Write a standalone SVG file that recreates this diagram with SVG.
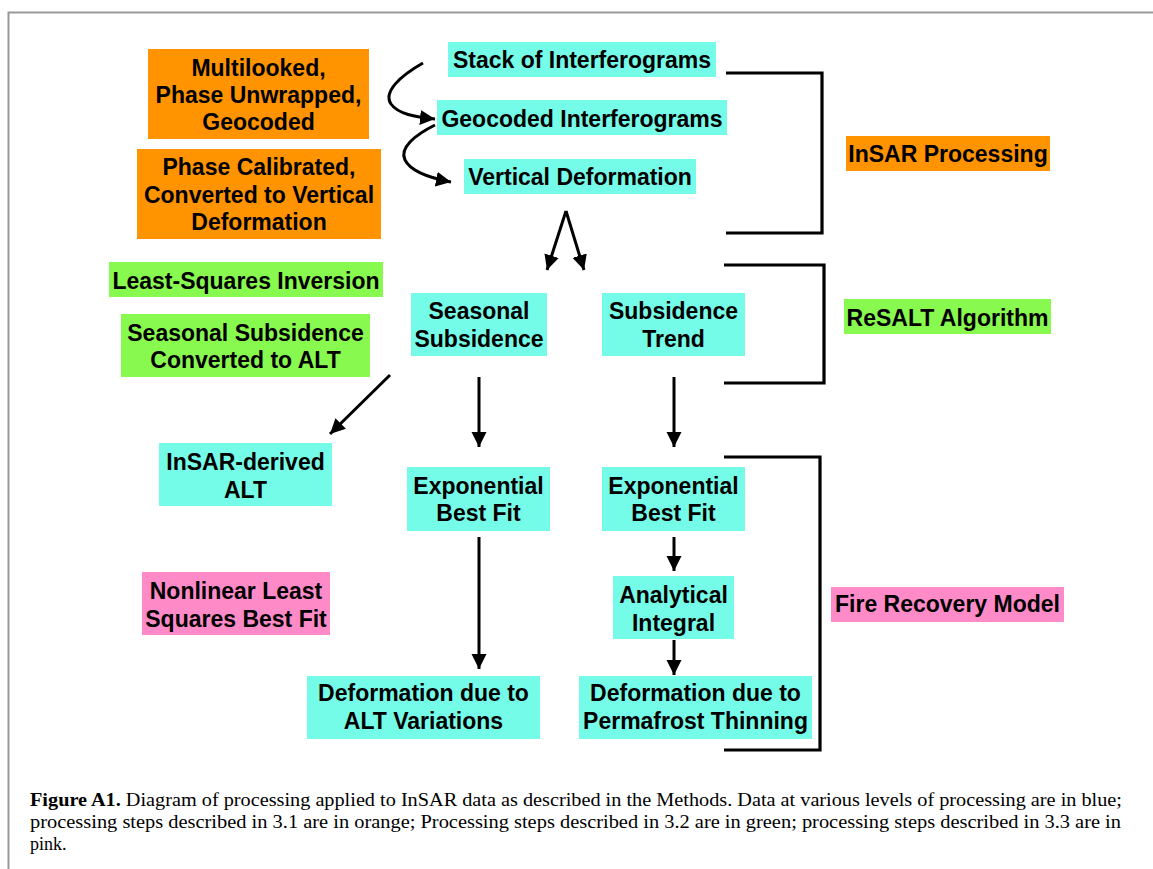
<svg xmlns="http://www.w3.org/2000/svg" width="1153" height="869" viewBox="0 0 1153 869">
<style>
.t{font-family:"Liberation Sans",Arial,Helvetica,sans-serif;font-weight:bold;font-size:23px;fill:#000;text-anchor:middle}
.c{fill:#75FCE8}
.o{fill:#FF9300}
.g{fill:#88F94E}
.p{fill:#FF8AC8}
.ln{fill:none;stroke:#000;stroke-width:3}
.br{fill:none;stroke:#000;stroke-width:3.2}
.cap{font-family:"Liberation Serif","Times New Roman",serif;font-size:18px;fill:#000}
</style>
<defs>
<marker id="ah" markerUnits="userSpaceOnUse" markerWidth="16" markerHeight="16" refX="15" refY="7.5" orient="auto" viewBox="0 0 16 16">
<path d="M0,0 L15,7.5 L0,15 z" fill="#000"/>
</marker>
</defs>
<rect x="0" y="0" width="1153" height="869" fill="#fff"/>
<path d="M8.5,869 L8.5,12.5 L1153,12.5" fill="none" stroke="#999" stroke-width="2"/>

<g id="multilooked"><rect class="o" x="148" y="49" width="221" height="90"/>
<text class="t" x="258.5" y="76">Multilooked,</text>
<text class="t" x="258.5" y="103">Phase Unwrapped,</text>
<text class="t" x="258.5" y="130">Geocoded</text></g>

<g id="phasecal"><rect class="o" x="137" y="149" width="244" height="90"/>
<text class="t" x="259" y="175">Phase Calibrated,</text>
<text class="t" x="259" y="203">Converted to Vertical</text>
<text class="t" x="259" y="230">Deformation</text></g>

<g id="stack"><rect class="c" x="448" y="42" width="268" height="35"/>
<text class="t" x="582" y="68">Stack of Interferograms</text></g>

<g id="geocoded"><rect class="c" x="437" y="100" width="290" height="35"/>
<text class="t" x="582" y="127">Geocoded Interferograms</text></g>

<g id="vertdef"><rect class="c" x="464" y="159" width="232" height="35"/>
<text class="t" x="580" y="185">Vertical Deformation</text></g>

<g id="insarproc"><rect class="o" x="846" y="136" width="204" height="35"/>
<text class="t" x="948" y="162">InSAR Processing</text></g>

<g id="resalt"><rect class="g" x="844" y="299" width="207" height="35"/>
<text class="t" x="947.5" y="326">ReSALT Algorithm</text></g>

<g id="lsinv"><rect class="g" x="109" y="262" width="274" height="35"/>
<text class="t" x="246" y="289">Least-Squares Inversion</text></g>

<g id="sscalt"><rect class="g" x="121" y="314" width="249" height="63"/>
<text class="t" x="245.5" y="341">Seasonal Subsidence</text>
<text class="t" x="245.5" y="368">Converted to ALT</text></g>

<g id="seasonal"><rect class="c" x="411" y="293" width="136" height="63"/>
<text class="t" x="479" y="319">Seasonal</text>
<text class="t" x="479" y="347">Subsidence</text></g>

<g id="trend"><rect class="c" x="602" y="293" width="143" height="63"/>
<text class="t" x="673.5" y="319">Subsidence</text>
<text class="t" x="673.5" y="347">Trend</text></g>

<g id="insaralt"><rect class="c" x="159" y="443" width="173" height="63"/>
<text class="t" x="245.5" y="470">InSAR-derived</text>
<text class="t" x="245.5" y="498">ALT</text></g>

<g id="expleft"><rect class="c" x="407" y="467" width="143" height="64"/>
<text class="t" x="478.5" y="494">Exponential</text>
<text class="t" x="478.5" y="521">Best Fit</text></g>

<g id="expright"><rect class="c" x="602" y="467" width="143" height="64"/>
<text class="t" x="673.5" y="494">Exponential</text>
<text class="t" x="673.5" y="521">Best Fit</text></g>

<g id="nonlinear"><rect class="p" x="142" y="572" width="188" height="63"/>
<text class="t" x="236" y="599">Nonlinear Least</text>
<text class="t" x="236" y="627">Squares Best Fit</text></g>

<g id="analytical"><rect class="c" x="613" y="576" width="121" height="63"/>
<text class="t" x="673.5" y="603">Analytical</text>
<text class="t" x="673.5" y="631">Integral</text></g>

<g id="defalt"><rect class="c" x="307" y="676" width="233" height="63"/>
<text class="t" x="423.5" y="701">Deformation due to</text>
<text class="t" x="423.5" y="729">ALT Variations</text></g>

<g id="defperm"><rect class="c" x="579" y="676" width="233" height="63"/>
<text class="t" x="695.5" y="701">Deformation due to</text>
<text class="t" x="695.5" y="729">Permafrost Thinning</text></g>

<g id="fire"><rect class="p" x="831" y="587" width="233" height="35"/>
<text class="t" x="947.5" y="612">Fire Recovery Model</text></g>

<g id="connectors">
<path class="ln" d="M423,63 C400,76 383,92 391,104 C398,114 415,117 435,119" marker-end="url(#ah)"/>
<path class="ln" d="M435,125 C415,135 399,148 405,160 C411,172 430,178 451,182" marker-end="url(#ah)"/>
<path class="ln" d="M566,211 L547,270" marker-end="url(#ah)"/>
<path class="ln" d="M566,211 L584,270" marker-end="url(#ah)"/>
<path class="ln" d="M390,375 L330,434" marker-end="url(#ah)"/>
<path class="ln" d="M479,377 L479,447" marker-end="url(#ah)"/>
<path class="ln" d="M674,377 L674,447" marker-end="url(#ah)"/>
<path class="ln" d="M479,537 L479,669" marker-end="url(#ah)"/>
<path class="ln" d="M674,537 L674,571" marker-end="url(#ah)"/>
<path class="ln" d="M674,640 L674,675" marker-end="url(#ah)"/>
<path class="br" d="M726,73 L822,73 L822,233 L726,233"/>
<path class="br" d="M724,265 L824,265 L824,383 L724,383"/>
<path class="br" d="M724,457 L820,457 L820,750 L724,750"/>
</g>

<g id="caption">
<text class="cap" x="30" y="806" textLength="1092" lengthAdjust="spacingAndGlyphs"><tspan font-weight="bold">Figure A1.</tspan> Diagram of processing applied to InSAR data as described in the Methods. Data at various levels of processing are in blue;</text>
<text class="cap" x="30" y="828" textLength="1091" lengthAdjust="spacingAndGlyphs">processing steps described in 3.1  are in orange; Processing steps described in 3.2 are in green; processing steps described in 3.3 are in</text>
<text class="cap" x="30" y="850">pink.</text>
</g>
</svg>
